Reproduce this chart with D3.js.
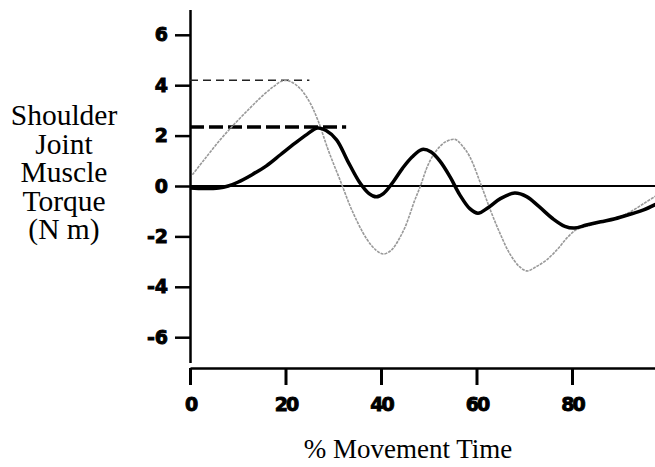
<!DOCTYPE html>
<html>
<head>
<meta charset="utf-8">
<title>Shoulder joint muscle torque</title>
<style>
  body { margin: 0; background: #fff; }
  .tick text { font-family: "DejaVu Sans", sans-serif; font-weight: bold; font-size: 19px; stroke: #000; stroke-width: 0.9px; }
  .title { font-family: "Liberation Serif", "Times New Roman", serif; font-size: 29.5px; fill: #000; }
</style>
</head>
<body>
<script src="https://d3js.org/d3.v7.min.js"></script>
<script>
// values: % movement time vs torque (N m)
var blackX = [0, 3, 6, 8, 10, 13, 16, 19, 22, 24.5, 26.7, 28.5, 30.7, 33, 35.5, 37.5, 39, 40.5, 42.5, 44.5,
              46.5, 48.6, 50.5, 52.5, 54.5, 56.5, 58.6, 60.3, 62.5, 65, 68, 70.5, 73, 76, 78.5, 80.5,
              83, 86, 89, 92.5, 95, 97.5];
var blackY = [-0.08, -0.1, -0.08, 0, 0.15, 0.45, 0.8, 1.25, 1.7, 2.05, 2.3, 2.2, 1.83, 1.0, 0.15, -0.3, -0.43, -0.3, 0.15, 0.7,
              1.15, 1.45, 1.35, 0.95, 0.35, -0.35, -0.9, -1.08, -0.85, -0.5, -0.28, -0.42, -0.8, -1.3, -1.6, -1.67,
              -1.55, -1.42, -1.3, -1.1, -0.95, -0.73];

var greyX = [0.5, 3, 6.3, 9.5, 12.6, 15, 17.4, 19.5, 21, 23, 25, 26.8, 29, 31.5, 34, 37, 39, 40.5, 42, 43,
             45, 47, 48.2, 50, 51.7, 53.5, 55.5, 57, 58.6, 61.1, 63, 64.9, 67, 69, 70.6, 72.5, 74.7, 77, 79,
             81, 83, 86, 89, 92, 95, 97.5];
var greyY = [0.45, 1.05, 1.83, 2.5, 3.1, 3.55, 3.93, 4.18, 4.15, 3.88, 3.35, 2.6, 1.4, 0.2, -1.0, -2.1, -2.55, -2.7, -2.57, -2.35,
             -1.65, -0.6, -0.03, 0.9, 1.43, 1.75, 1.85, 1.6, 1.16, -0.03, -1.0, -1.87, -2.7, -3.2, -3.37, -3.2, -2.93, -2.5, -2.05,
             -1.72, -1.6, -1.45, -1.3, -1.05, -0.7, -0.4];

// peak markers (dashed) : value and end of the dash in % time
var peakBlack = 2.34, peakBlackEnd = 32.7;
var peakGrey = 4.2, peakGreyEnd = 25;

var xTicks = [0, 20, 40, 60, 80];
var yTicks = [-6, -4, -2, 0, 2, 4, 6];
var yTitle = ["Shoulder", "Joint", "Muscle", "Torque", "(N m)"];
var xTitle = "% Movement Time";

var width = 655, height = 467;

var svg = d3.select("body").append("svg")
    .attr("width", width)
    .attr("height", height);

var x = d3.scaleLinear().domain([0, 100]).range([190, 667.5]);
var y = d3.scaleLinear().domain([-7, 7]).range([362.4, 9.6]);

// y axis
var yAxis = svg.append("g")
    .attr("transform", "translate(190,0)")
    .call(d3.axisLeft(y).tickValues(yTicks).tickSize(15).tickSizeOuter(0).tickPadding(7)
          .tickFormat(function(d) { return String(d); }));
yAxis.select(".domain").attr("stroke-width", 2.5);
yAxis.selectAll(".tick line").attr("stroke-width", 2.5);

// x axis (separate, slightly below)
var xAxis = svg.append("g")
    .attr("transform", "translate(0,368)")
    .call(d3.axisBottom(x).tickValues(xTicks).tickSize(17).tickSizeOuter(0).tickPadding(13));
xAxis.select(".domain").attr("stroke-width", 2.5);
xAxis.selectAll(".tick line").attr("stroke-width", 3);
xAxis.selectAll(".tick text").attr("letter-spacing", "-2px");

// zero line
svg.append("line")
    .attr("x1", x(0)).attr("x2", width)
    .attr("y1", y(0)).attr("y2", y(0))
    .attr("stroke", "#000").attr("stroke-width", 2);

// peak dashes
svg.append("line")
    .attr("x1", x(0)).attr("x2", x(peakGreyEnd))
    .attr("y1", y(peakGrey)).attr("y2", y(peakGrey))
    .attr("stroke", "#222").attr("stroke-width", 1.5)
    .attr("stroke-dasharray", "8,5");
svg.append("line")
    .attr("x1", x(0)).attr("x2", x(peakBlackEnd))
    .attr("y1", y(peakBlack)).attr("y2", y(peakBlack))
    .attr("stroke", "#000").attr("stroke-width", 3.5)
    .attr("stroke-dasharray", "14,5");

var line = d3.line()
    .x(function(d) { return x(d[0]); })
    .y(function(d) { return y(d[1]); })
    .curve(d3.curveCatmullRom);

svg.append("path")
    .datum(d3.zip(greyX, greyY))
    .attr("d", line)
    .attr("fill", "none")
    .attr("stroke", "#999")
    .attr("stroke-width", 1.6)
    .attr("stroke-dasharray", "3,1");

svg.append("path")
    .datum(d3.zip(blackX, blackY))
    .attr("d", line)
    .attr("fill", "none")
    .attr("stroke", "#000")
    .attr("stroke-width", 3.5)
    .attr("stroke-linejoin", "round");

// titles
svg.append("text")
    .attr("class", "title")
    .attr("x", 64)
    .attr("text-anchor", "middle")
    .selectAll("tspan").data(yTitle).enter().append("tspan")
      .attr("x", 64)
      .attr("y", function(d, i) { return 125 + i * 28.5; })
      .text(function(d) { return d; });

svg.append("text")
    .attr("class", "title")
    .attr("x", 408)
    .attr("y", 458)
    .attr("text-anchor", "middle")
    .style("font-size", "27px")
    .text(xTitle);
</script>
</body>
</html>
